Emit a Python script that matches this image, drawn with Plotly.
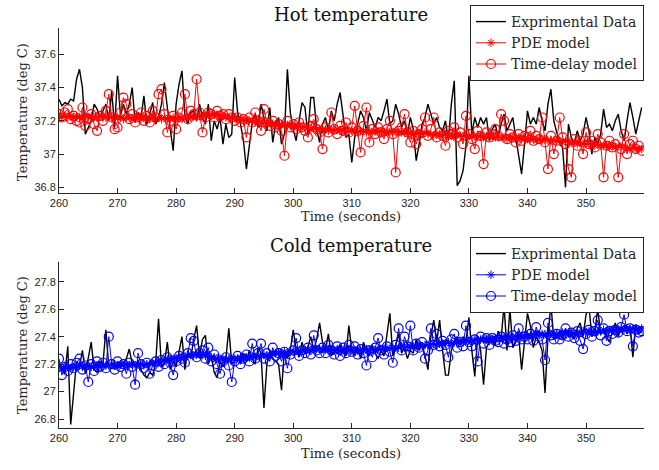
import numpy as np
import plotly.graph_objects as go

# time axis: samples every 0.5 s from 260 to 359.5
time_s = np.arange(260.0, 360.0, 0.5)

x_tick_vals = [260, 270, 280, 290, 300, 310, 320, 330, 340, 350]
hot_y_ticks = [36.8, 37.0, 37.2, 37.4, 37.6]
hot_y_labels = ["36.8", "37", "37.2", "37.4", "37.6"]
cold_y_ticks = [26.8, 27.0, 27.2, 27.4, 27.6, 27.8]
cold_y_labels = ["26.8", "27", "27.2", "27.4", "27.6", "27.8"]

hot_exp = [
    37.33, 37.29, 37.31, 37.30, 37.33, 37.32, 37.45, 37.51, 37.40, 37.12,
    37.16, 37.20, 37.30, 37.27, 37.22, 37.26, 37.30, 37.20, 37.38, 37.16,
    37.47, 37.23, 37.30, 37.24, 37.30, 37.40, 37.19, 37.25, 37.22, 37.35,
    37.18, 37.24, 37.31, 37.18, 37.22, 37.30, 37.43, 37.28, 37.16, 37.02,
    37.30, 37.42, 37.50, 37.23, 37.18, 37.25, 37.26, 37.20, 37.30, 37.22,
    37.18, 37.30, 37.08, 37.20, 37.15, 37.22, 37.06, 37.18, 37.10, 37.12,
    37.46, 37.25, 37.18, 37.08, 36.91, 37.05, 37.19, 37.24, 37.16, 37.30,
    37.22, 37.14, 37.28, 37.07, 37.18, 37.22, 37.06, 37.12, 37.51, 37.25,
    37.15, 37.08, 37.20, 37.31, 37.28, 37.12, 37.34, 37.34, 37.15, 37.07,
    37.18, 37.22, 37.14, 37.26, 37.20, 37.30, 37.37, 37.24, 37.10, 37.12,
    36.95, 37.10, 37.18, 37.26, 37.22, 37.14, 37.25, 37.20, 37.16, 37.22,
    37.20, 37.26, 37.33, 37.18, 37.20, 37.30, 37.24, 37.16, 37.20, 37.12,
    37.22, 37.15, 36.96, 37.06, 37.18, 37.22, 37.30, 37.24, 37.18, 37.22,
    37.16, 37.14, 37.20, 37.08, 37.30, 37.44, 36.81, 36.84, 36.90, 37.05,
    37.47, 37.12, 37.22, 37.16, 37.22, 37.18, 37.22, 37.08, 37.15, 37.18,
    37.10, 37.18, 37.24, 37.14, 37.18, 37.22, 37.10, 37.00, 36.88, 37.06,
    37.26, 37.18, 37.22, 37.18, 37.28, 37.20, 37.14, 37.30, 37.39, 37.20,
    37.12, 37.06, 37.04, 36.80, 37.18, 37.10, 37.06, 37.14, 37.08, 37.12,
    37.22, 37.14, 37.00, 37.10, 37.06, 37.12, 37.27, 37.16, 37.18, 37.14,
    37.20, 37.24, 37.14, 37.08, 37.20, 37.31, 37.22, 37.12, 37.20, 37.28,
]

hot_pde = [
    37.23, 37.22, 37.23, 37.22, 37.23, 37.22, 37.23, 37.22, 37.22, 37.23,
    37.22, 37.23, 37.22, 37.22, 37.23, 37.22, 37.22, 37.23, 37.22, 37.22,
    37.22, 37.22, 37.21, 37.22, 37.22, 37.21, 37.22, 37.22, 37.21, 37.22,
    37.22, 37.21, 37.22, 37.21, 37.22, 37.21, 37.22, 37.21, 37.21, 37.22,
    37.21, 37.22, 37.21, 37.22, 37.22, 37.22, 37.23, 37.22, 37.23, 37.23,
    37.23, 37.24, 37.23, 37.24, 37.23, 37.23, 37.23, 37.22, 37.22, 37.22,
    37.22, 37.21, 37.21, 37.20, 37.21, 37.20, 37.20, 37.19, 37.20, 37.19,
    37.19, 37.18, 37.19, 37.18, 37.18, 37.17, 37.18, 37.17, 37.17, 37.17,
    37.17, 37.16, 37.17, 37.16, 37.16, 37.16, 37.15, 37.16, 37.15, 37.15,
    37.15, 37.15, 37.14, 37.15, 37.14, 37.15, 37.14, 37.14, 37.14, 37.14,
    37.14, 37.14, 37.13, 37.14, 37.14, 37.13, 37.14, 37.13, 37.14, 37.13,
    37.14, 37.13, 37.14, 37.13, 37.13, 37.14, 37.13, 37.13, 37.13, 37.12,
    37.13, 37.12, 37.13, 37.12, 37.12, 37.13, 37.12, 37.12, 37.11, 37.12,
    37.12, 37.11, 37.12, 37.11, 37.11, 37.11, 37.12, 37.11, 37.11, 37.11,
    37.11, 37.10, 37.11, 37.10, 37.11, 37.10, 37.10, 37.11, 37.10, 37.10,
    37.10, 37.10, 37.10, 37.09, 37.10, 37.10, 37.09, 37.10, 37.09, 37.09,
    37.09, 37.09, 37.09, 37.08, 37.09, 37.08, 37.09, 37.08, 37.08, 37.08,
    37.08, 37.08, 37.07, 37.08, 37.07, 37.07, 37.07, 37.06, 37.07, 37.06,
    37.06, 37.06, 37.06, 37.05, 37.06, 37.05, 37.05, 37.05, 37.04, 37.05,
    37.04, 37.05, 37.04, 37.04, 37.04, 37.03, 37.04, 37.03, 37.03, 37.03,
]

hot_td = [
    37.24, 37.22, 37.25, 37.27, 37.21, 37.23, 37.20, 37.19, 37.28, 37.17,
    37.21, 37.24, 37.18, 37.14, 37.23, 37.20, 37.26, 37.36, 37.22, 37.15,
    37.16, 37.25, 37.34, 37.30, 37.21, 37.24, 37.19, 37.22, 37.25, 37.20,
    37.23, 37.19, 37.26, 37.22, 37.36, 37.39, 37.24, 37.13, 37.20, 37.23,
    37.15, 37.22, 37.25, 37.36, 37.21, 37.26, 37.24, 37.45, 37.25, 37.13,
    37.22, 37.25, 37.24, 37.22, 37.26, 37.23, 37.24, 37.21, 37.24, 37.22,
    37.20, 37.22, 37.19, 37.21, 37.10, 37.22, 37.19, 37.25, 37.20, 37.14,
    37.27, 37.19, 37.17, 37.20, 37.16, 37.18, 37.14, 36.99, 37.20, 37.16,
    37.18, 37.15, 37.19, 37.16, 37.14, 37.10, 37.17, 37.21, 37.15, 37.13,
    37.03, 37.16, 37.13, 37.25, 37.15, 37.12, 37.17, 37.14, 37.19, 37.13,
    37.16, 37.29, 37.14, 37.01, 37.17, 37.28, 37.07, 37.15, 37.12, 37.16,
    37.13, 37.09, 37.15, 37.20, 37.12, 36.89, 37.14, 37.16, 37.24, 37.13,
    37.07, 37.14, 37.06, 37.12, 37.15, 37.22, 37.11, 37.15, 37.22, 37.10,
    37.13, 37.11, 37.05, 37.14, 37.12, 37.16, 37.10, 37.13, 37.06, 37.23,
    37.12, 37.09, 37.03, 37.14, 37.11, 36.94, 37.13, 37.10, 37.12, 37.15,
    37.11, 37.24, 37.20, 37.09, 37.12, 37.10, 37.07, 37.12, 37.08, 37.11,
    37.10, 37.14, 37.08, 37.11, 37.09, 37.22, 37.07, 36.91, 37.11, 37.00,
    37.08, 37.22, 37.10, 37.06, 36.91, 36.86, 37.09, 37.05, 37.08, 37.00,
    37.13, 37.06, 37.08, 37.04, 37.12, 37.07, 36.86, 37.05, 37.08, 37.04,
    37.06, 36.86, 37.03, 37.12, 37.00, 37.06, 37.08, 37.03, 37.05, 37.02,
]

cold_exp = [
    27.21, 27.18, 27.13, 27.33, 26.76, 27.00, 27.22, 27.18, 27.30, 27.13,
    27.25, 27.36, 27.16, 27.14, 27.22, 27.20, 27.45, 27.18, 27.20, 27.16,
    27.22, 27.17, 27.20, 27.24, 27.31, 27.20, 27.18, 27.22, 27.16, 27.12,
    27.10, 27.14, 27.12, 27.20, 27.53, 27.18, 27.20, 27.36, 27.16, 27.22,
    27.18, 27.30, 27.40, 27.16, 27.30, 27.24, 27.38, 27.48, 27.26, 27.38,
    27.41, 27.20, 27.26, 27.14, 27.10, 27.22, 27.18, 27.24, 27.46, 27.20,
    27.22, 27.26, 27.20, 27.28, 27.22, 27.30, 27.24, 27.20, 27.32, 27.28,
    26.88, 27.20, 27.30, 27.24, 27.22, 27.20, 27.01, 27.30, 27.24, 27.30,
    27.45, 27.30, 27.25, 27.36, 27.28, 27.32, 27.40, 27.30, 27.38, 27.50,
    27.36, 27.30, 27.42, 27.26, 27.30, 27.28, 27.34, 27.30, 27.26, 27.48,
    27.30, 27.26, 27.32, 27.24, 27.36, 27.30, 27.26, 27.34, 27.28, 27.24,
    27.30, 27.26, 27.40, 27.57, 27.26, 27.34, 27.42, 27.28, 27.32, 27.24,
    27.30, 27.28, 27.38, 27.30, 27.34, 27.26, 27.16, 27.40, 27.52, 27.36,
    27.52, 27.30, 27.12, 27.12, 27.30, 27.36, 27.40, 27.34, 27.40, 27.36,
    27.54, 27.30, 27.11, 27.40, 27.30, 27.05, 27.32, 27.36, 27.40, 27.34,
    27.44, 27.38, 27.63, 27.30, 27.60, 27.32, 27.36, 27.40, 27.16, 27.36,
    27.57, 27.48, 27.32, 27.40, 27.36, 27.30, 26.99, 27.40, 27.64, 27.38,
    27.40, 27.44, 27.38, 27.46, 27.40, 27.42, 27.38, 27.46, 27.50, 27.40,
    27.56, 27.62, 27.40, 27.44, 27.60, 27.42, 27.46, 27.40, 27.36, 27.44,
    27.50, 27.40, 27.46, 27.48, 27.42, 27.48, 27.25, 27.49, 27.42, 27.44,
]

cold_pde = [
    27.18, 27.17, 27.18, 27.18, 27.17, 27.18, 27.18, 27.19, 27.18, 27.18,
    27.19, 27.18, 27.19, 27.19, 27.18, 27.19, 27.19, 27.19, 27.20, 27.19,
    27.19, 27.20, 27.19, 27.20, 27.19, 27.20, 27.19, 27.20, 27.20, 27.19,
    27.20, 27.20, 27.21, 27.21, 27.22, 27.22, 27.23, 27.23, 27.24, 27.24,
    27.24, 27.25, 27.25, 27.26, 27.26, 27.27, 27.26, 27.27, 27.27, 27.27,
    27.26, 27.26, 27.25, 27.25, 27.24, 27.24, 27.24, 27.23, 27.24, 27.24,
    27.24, 27.24, 27.25, 27.24, 27.25, 27.25, 27.26, 27.25, 27.26, 27.26,
    27.27, 27.26, 27.27, 27.27, 27.28, 27.28, 27.28, 27.29, 27.28, 27.29,
    27.29, 27.30, 27.29, 27.30, 27.30, 27.31, 27.30, 27.31, 27.31, 27.31,
    27.31, 27.31, 27.30, 27.31, 27.30, 27.31, 27.30, 27.30, 27.31, 27.30,
    27.30, 27.30, 27.31, 27.30, 27.30, 27.31, 27.30, 27.31, 27.30, 27.31,
    27.31, 27.31, 27.32, 27.31, 27.32, 27.32, 27.32, 27.33, 27.32, 27.33,
    27.33, 27.33, 27.33, 27.34, 27.33, 27.34, 27.34, 27.34, 27.35, 27.34,
    27.35, 27.35, 27.35, 27.36, 27.35, 27.36, 27.36, 27.37, 27.36, 27.37,
    27.37, 27.37, 27.38, 27.37, 27.38, 27.38, 27.38, 27.39, 27.38, 27.39,
    27.39, 27.39, 27.40, 27.39, 27.40, 27.40, 27.40, 27.41, 27.40, 27.41,
    27.41, 27.41, 27.41, 27.42, 27.41, 27.42, 27.42, 27.41, 27.42, 27.42,
    27.42, 27.42, 27.43, 27.42, 27.43, 27.43, 27.42, 27.43, 27.43, 27.44,
    27.43, 27.44, 27.44, 27.43, 27.44, 27.44, 27.45, 27.44, 27.45, 27.45,
    27.45, 27.45, 27.46, 27.45, 27.46, 27.45, 27.46, 27.45, 27.45, 27.46,
]

cold_td = [
    27.24, 27.12, 27.18, 27.15, 27.20, 27.17, 27.21, 27.24, 27.16, 27.19,
    27.07, 27.20, 27.15, 27.22, 27.18, 27.21, 27.17, 27.40, 27.20, 27.16,
    27.22, 27.18, 27.20, 27.13, 27.21, 27.18, 27.05, 27.28, 27.20, 27.17,
    27.21, 27.13, 27.19, 27.22, 27.18, 27.23, 27.20, 27.25, 27.21, 27.12,
    27.22, 27.26, 27.24, 27.21, 27.28, 27.39, 27.37, 27.25, 27.28, 27.30,
    27.24, 27.32, 27.22, 27.27, 27.20, 27.13, 27.22, 27.25, 27.19, 27.07,
    27.22, 27.26, 27.20, 27.24, 27.27, 27.22, 27.35, 27.24, 27.28, 27.35,
    27.24, 27.28, 27.22, 27.32, 27.26, 27.28, 27.22, 27.29, 27.17, 27.27,
    27.30, 27.39, 27.26, 27.30, 27.28, 27.32, 27.27, 27.41, 27.30, 27.28,
    27.32, 27.28, 27.34, 27.30, 27.27, 27.33, 27.26, 27.32, 27.28, 27.34,
    27.29, 27.33, 27.27, 27.31, 27.28, 27.19, 27.30, 27.25, 27.32, 27.39,
    27.30, 27.27, 27.33, 27.29, 27.21, 27.34, 27.46, 27.30, 27.40, 27.33,
    27.48, 27.30, 27.35, 27.32, 27.36, 27.24, 27.30, 27.46, 27.34, 27.42,
    27.33, 27.37, 27.34, 27.25, 27.38, 27.42, 27.32, 27.36, 27.33, 27.48,
    27.36, 27.33, 27.38, 27.22, 27.40, 27.35, 27.39, 27.34, 27.39, 27.37,
    27.36, 27.40, 27.35, 27.38, 27.36, 27.41, 27.37, 27.46, 27.38, 27.40,
    27.38, 27.42, 27.37, 27.47, 27.40, 27.38, 27.23, 27.50, 27.41, 27.38,
    27.42, 27.38, 27.41, 27.46, 27.40, 27.43, 27.39, 27.44, 27.37, 27.31,
    27.42, 27.45, 27.40, 27.44, 27.52, 27.41, 27.46, 27.37, 27.44, 27.42,
    27.45, 27.43, 27.47, 27.56, 27.44, 27.46, 27.33, 27.45, 27.43, 27.44,
]

W, H = 659, 470
SERIF = "DejaVu Serif, Liberation Serif, serif"
SANS = "Liberation Sans, Arial, sans-serif"

fig = go.Figure()

def add_panel(exp, pde, td, color, xa, ya, legend):
    fig.add_trace(go.Scatter(x=time_s, y=exp, mode="lines", name="Exprimental Data",
                             line=dict(color="black", width=1.4), xaxis=xa, yaxis=ya,
                             legend=legend))
    fig.add_trace(go.Scatter(x=time_s, y=pde, mode="lines+markers", name="PDE model",
                             line=dict(color=color, width=1),
                             marker=dict(symbol="asterisk-open", size=7, color=color,
                                         line=dict(color=color, width=1)),
                             xaxis=xa, yaxis=ya, legend=legend))
    fig.add_trace(go.Scatter(x=time_s, y=td, mode="lines+markers", name="Time-delay model",
                             line=dict(color=color, width=1),
                             marker=dict(symbol="circle-open", size=9, color=color,
                                         line=dict(color=color, width=1.2)),
                             xaxis=xa, yaxis=ya, legend=legend))

add_panel(hot_exp, hot_pde, hot_td, "#ff0000", "x", "y", "legend")
add_panel(cold_exp, cold_pde, cold_td, "#0000ff", "x2", "y2", "legend2")

x_dom = [59 / W, 644 / W]
axis_common = dict(showline=True, linecolor="#262626", linewidth=1, mirror=False,
                   ticks="inside", ticklen=5, tickcolor="#262626", showgrid=False,
                   zeroline=False, tickfont=dict(family=SANS, size=11, color="#262626"),
                   automargin=False)

legend_common = dict(xanchor="right", yanchor="top", bordercolor="#262626", borderwidth=1,
                     bgcolor="white", font=dict(family=SERIF, size=14, color="#262626"),
                     itemwidth=30, tracegroupgap=0)

fig.update_layout(
    width=W, height=H,
    margin=dict(l=0, r=0, t=0, b=0),
    paper_bgcolor="white", plot_bgcolor="white",
    showlegend=True,
    xaxis=dict(domain=x_dom, range=[260, 359.9], tickvals=x_tick_vals, anchor="y", **axis_common),
    yaxis=dict(domain=[1 - 193 / H, 1 - 28 / H], range=[36.766, 37.758], tickvals=hot_y_ticks,
               ticktext=hot_y_labels, anchor="x", **axis_common),
    xaxis2=dict(domain=x_dom, range=[260, 359.9], tickvals=x_tick_vals, anchor="y2", **axis_common),
    yaxis2=dict(domain=[1 - 427.7 / H, 1 - 261.7 / H], range=[26.737, 27.946], tickvals=cold_y_ticks,
                ticktext=cold_y_labels, anchor="x2", **axis_common),
    legend=dict(x=644 / W, y=1 - 5 / H, **legend_common),
    legend2=dict(x=644 / W, y=1 - 237 / H, **legend_common),
)

ann_font_title = dict(family=SERIF, size=18, color="#111111")
ann_font_lab = dict(family=SERIF, size=13, color="#262626")
anns = [
    dict(text="Hot temperature", x=351 / W, y=1 - 14 / H, font=ann_font_title),
    dict(text="Cold temperature", x=351 / W, y=1 - 245 / H, font=ann_font_title),
    dict(text="Time (seconds)", x=351 / W, y=1 - 216 / H, font=ann_font_lab),
    dict(text="Time (seconds)", x=351 / W, y=1 - 453 / H, font=ann_font_lab),
    dict(text="Temperature (deg C)", x=22 / W, y=1 - 112 / H, textangle=-90, font=ann_font_lab),
    dict(text="Temperature (deg C)", x=22 / W, y=1 - 345 / H, textangle=-90, font=ann_font_lab),
]
for a in anns:
    fig.add_annotation(xref="paper", yref="paper", xanchor="center", yanchor="middle",
                       showarrow=False, **a)

fig.write_html("out.html")
